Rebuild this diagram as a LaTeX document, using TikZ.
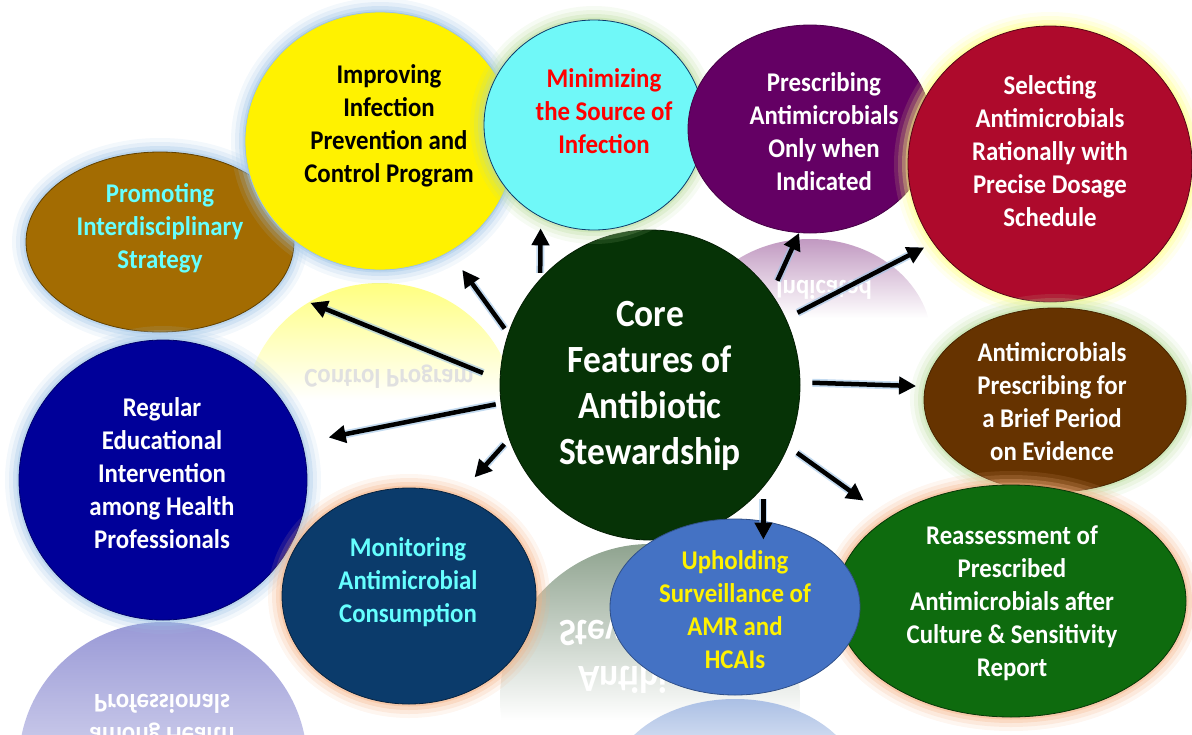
\documentclass[tikz,border=0pt]{standalone}
\usepackage{fontspec}
\usepackage{tikz}
\usetikzlibrary{arrows.meta}
\usetikzlibrary{shapes.geometric}
\newfontfamily\calib{Carlito}[FakeStretch=0.92]
\definecolor{senf}{HTML}{A36C02}
\definecolor{tuerkis}{HTML}{70F8F8}
\definecolor{lila}{HTML}{640064}
\definecolor{weinrot}{HTML}{AE0A2C}
\definecolor{braun}{HTML}{663300}
\definecolor{gruen}{HTML}{0E6B0E}
\definecolor{blau}{HTML}{4472C4}
\definecolor{marine}{HTML}{0B3B6B}
\definecolor{navy}{HTML}{000099}
\definecolor{kern}{HTML}{063306}
\definecolor{hellcyan}{HTML}{66FFFF}
\definecolor{hellblau}{HTML}{9DC3E6}
\definecolor{hellgruen}{HTML}{B9DC9C}
\definecolor{hellgelb}{HTML}{FFFF80}
\definecolor{orange}{HTML}{F4B183}

\tikzset{
  blase/.style={ellipse, inner sep=0pt, line width=0.8pt},
  glow/.style={preaction={draw=#1, draw opacity=0.12, line width=28pt},
               preaction={draw=#1, draw opacity=0.18, line width=20pt},
               preaction={draw=#1, draw opacity=0.28, line width=12pt},
               preaction={draw=#1, draw opacity=0.4, line width=5pt}},
  txt/.style={align=center, font=\calib\bfseries\fontsize{27}{33}\selectfont},
  kerntxt/.style={align=center, font=\calib\bfseries\fontsize{38.5}{46}\selectfont},
  pfeil/.style={-{Triangle[length=17pt,width=17pt]}, line width=4.5pt,
                preaction={draw=hellblau, draw opacity=0.6, line width=8pt}},
}

\begin{document}
\begin{tikzpicture}[x=1pt, y=-1pt] % y nach unten, Maße in Pixeln

    \useasboundingbox (0,0) rectangle (1192,734);

    % Spiegelungen
    \begin{scope}
        \clip (380,412) ellipse [x radius=135, y radius=129];
        \shade[top color=yellow!50, bottom color=white] (240,283) rectangle (520,400);
    \end{scope}
    \node[txt, yscale=-1, text=black!12] (sp-praev) at (389,377) {Control Program};

    \begin{scope}
        \clip (810,343) ellipse [x radius=122, y radius=104];
        \shade[top color=lila!40, bottom color=white] (685,239) rectangle (935,318);
    \end{scope}
    \node[txt, yscale=-1, text=white] (sp-indik) at (824,290) {Indicated};

    \begin{scope}
        \clip (163,762) ellipse [x radius=144, y radius=140];
        \shade[top color=navy!40, bottom color=navy!22] (15,622) rectangle (310,740);
    \end{scope}
    \node[txt, yscale=-1, text=white] (sp-bildung) at (162,720) {among Health\\Professionals};

    \begin{scope}
        \clip (650,699) ellipse [x radius=150, y radius=155];
        \shade[top color=kern!45, bottom color=white] (495,544) rectangle (805,720);
    \end{scope}
    \node[kerntxt, yscale=-1, text=white] (sp-kern) at (650,654) {Antibiotic\\Stewardship};

    \begin{scope}
        \clip (735,787) ellipse [x radius=125, y radius=88];
        \shade[top color=blau!45, bottom color=blau!25] (605,699) rectangle (865,740);
    \end{scope}

    % Blasen
    \node[blase, glow=hellblau, fill=senf, draw=senf!60!black, minimum width=268pt, minimum height=180pt] (promo) at (160,242) {};
    \node[blase, glow=hellblau, fill=navy, draw=navy!70!black, minimum width=288pt, minimum height=280pt] (bildung) at (163,480) {};
    \node[blase, glow=hellblau, fill=yellow, draw=hellblau, minimum width=270pt, minimum height=258pt] (praev) at (380,141) {};
    \node[blase, glow=orange, fill=marine, draw=marine!60!black, minimum width=254pt, minimum height=216pt] (verbrauch) at (409,596) {};
    \node[blase, fill=kern, draw=kern!60!black, minimum width=300pt, minimum height=310pt] (core) at (650,385) {};
    \node[blase, glow=hellgruen, fill=tuerkis, draw=marine, minimum width=220pt, minimum height=210pt] (quelle) at (594,125) {};
    \node[blase, fill=lila, draw=lila!70!black, minimum width=244pt, minimum height=208pt] (indik) at (810,129) {};
    \node[blase, glow=hellgelb, fill=weinrot, draw=weinrot!50!black, minimum width=284pt, minimum height=276pt] (auswahl) at (1050,164) {};
    \node[blase, glow=hellgruen, fill=braun, draw=braun!70!black, minimum width=262pt, minimum height=184pt] (dauer) at (1055,400) {};
    \node[blase, glow=orange, fill=gruen, draw=gruen!50!black, minimum width=350pt, minimum height=232pt] (neubew) at (1011,601) {};
    \node[blase, fill=blau, draw=blau!70!black, minimum width=250pt, minimum height=176pt] (surv) at (735,607) {};

    % Beschriftungen
    \node[txt, text=hellcyan] (t-promo) at (160,228) {Promoting\\Interdisciplinary\\Strategy};
    \node[txt, text=black] (t-praev) at (389,126) {Improving\\Infection\\Prevention and\\Control Program};
    \node[txt, text=red] (t-quelle) at (604,111) {Minimizing\\the Source of\\Infection};
    \node[txt, text=white] (t-indik) at (824,132) {Prescribing\\Antimicrobials\\Only when\\Indicated};
    \node[txt, text=white] (t-auswahl) at (1050,151) {Selecting\\Antimicrobials\\Rationally with\\Precise Dosage\\Schedule};
    \node[txt, text=white] (t-dauer) at (1052,402) {Antimicrobials\\Prescribing for\\a Brief Period\\on Evidence};
    \node[txt, text=white] (t-neubew) at (1012,603) {Reassessment of\\Prescribed\\Antimicrobials after\\Culture \& Sensitivity\\Report};
    \node[txt, text=yellow] (t-surv) at (735,610) {Upholding\\Surveillance of\\AMR and\\HCAIs};
    \node[txt, text=hellcyan] (t-verbrauch) at (408,582) {Monitoring\\Antimicrobial\\Consumption};
    \node[txt, text=white] (t-bildung) at (162,473) {Regular\\Educational\\Intervention\\among Health\\Professionals};
    \node[kerntxt, text=white] (t-core) at (650,386) {Core\\Features of\\Antibiotic\\Stewardship};

    % Pfeile
    \draw[pfeil, shorten <=6pt, shorten >=22pt] (core.160) -- (praev.-58);
    \draw[pfeil, shorten <=18pt, shorten >=38pt] (core.178) -- (promo.-22);
    \draw[pfeil, shorten <=6pt, shorten >=11pt] (core.136) -- (quelle.-120);
    \draw[pfeil, shorten <=14pt] (core.37) -- (indik.-96);
    \draw[pfeil, shorten <=13pt, shorten >=10pt] (core.26) -- (auswahl.-146);
    \draw[pfeil, shorten <=12pt, shorten >=9pt] (core.1) -- (dauer.174);
    \draw[pfeil, shorten <=11pt, shorten >=30pt] (core.-24) -- (neubew.146);
    \draw[pfeil, shorten <=12pt, shorten >=-21pt] (core.-42) -- (core.-42 |- surv.north);
    \draw[pfeil, shorten <=7pt, shorten >=25pt] (core.201) -- (verbrauch.64);
    \draw[pfeil, shorten <=5pt, shorten >=27pt] (core.187) -- (bildung.15);

\end{tikzpicture}
\end{document}
